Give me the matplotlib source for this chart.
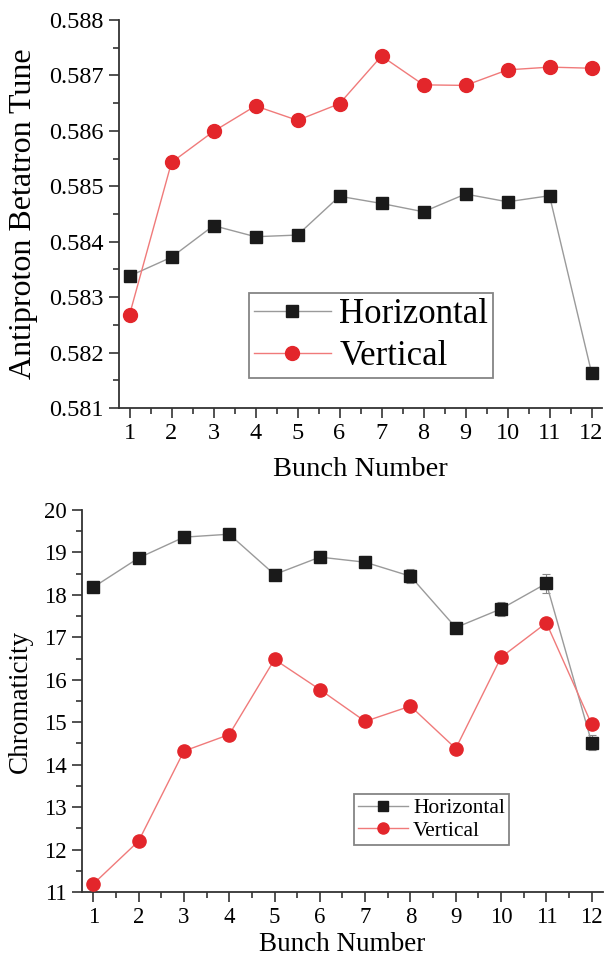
import matplotlib
matplotlib.use("Agg")
import matplotlib.pyplot as plt
from matplotlib.ticker import MultipleLocator, FormatStrFormatter

plt.rcParams['font.family'] = ['Liberation Serif', 'DejaVu Serif']
plt.rcParams['mathtext.fontset'] = 'stix'

bunch = list(range(1, 13))

tune_h = [0.58338, 0.58372, 0.58429, 0.58409, 0.58412, 0.58482,
          0.58469, 0.58454, 0.58486, 0.58472, 0.58483, 0.58164]
tune_v = [0.58268, 0.58543, 0.58599, 0.58645, 0.58619, 0.58649,
          0.58735, 0.58683, 0.58682, 0.58710, 0.58715, 0.58713]

chrom_h = [18.18, 18.87, 19.36, 19.43, 18.48, 18.89,
           18.77, 18.44, 17.23, 17.67, 18.27, 14.52]
chrom_h_err = [0.10, 0.08, 0.08, 0.08, 0.12, 0.14,
               0.14, 0.16, 0.12, 0.16, 0.22, 0.18]
chrom_v = [11.19, 12.20, 14.32, 14.71, 16.48, 15.77,
           15.02, 15.38, 14.38, 16.53, 17.34, 14.95]

labels = ['Horizontal', 'Vertical']

RED = '#e3262b'
RED_LINE = '#f07a7a'
BLK = '#1a1a1a'
GRAY_LINE = '#9a9a9a'
SPINE = '#333333'

W, H = 605, 963
fig = plt.figure(figsize=(W / 100, H / 100), dpi=100)

def px_axes(left, top, right, bottom):
    return fig.add_axes([left / W, 1 - bottom / H, (right - left) / W, (bottom - top) / H])

def style(ax, tick_fs):
    for s in ['top', 'right']:
        ax.spines[s].set_visible(False)
    for s in ['left', 'bottom']:
        ax.spines[s].set_color(SPINE)
        ax.spines[s].set_linewidth(1.3)
    ax.tick_params(which='major', direction='out', length=7, width=1.2,
                   color=SPINE, labelsize=tick_fs, pad=4)
    ax.tick_params(which='minor', direction='out', length=4, width=1.2, color=SPINE)
    ax.xaxis.set_major_locator(MultipleLocator(1))
    ax.xaxis.set_minor_locator(MultipleLocator(0.5))

# ---------- Top panel ----------
ax1 = px_axes(119, 20, 602, 408)
ax1.plot(bunch, tune_h, '-', color=GRAY_LINE, lw=1.0, zorder=2)
ax1.plot(bunch, tune_v, '-', color=RED_LINE, lw=1.0, zorder=2)
ax1.plot(bunch, tune_h, 's', color=BLK, ms=8, mec=BLK, zorder=3)
ax1.plot(bunch, tune_v, 'o', color=RED, ms=10, mec=RED, zorder=3)
hh = ax1.plot([], [], '-s', color=GRAY_LINE, mfc=BLK, mec=BLK, ms=8, lw=1.0)[0]
hv = ax1.plot([], [], '-o', color=RED_LINE, mfc=RED, mec=RED, ms=10, lw=1.0)[0]
ax1.set_xlim(0.75, 12.25)
ax1.set_ylim(0.581, 0.588)
ax1.yaxis.set_major_locator(MultipleLocator(0.001))
ax1.yaxis.set_minor_locator(MultipleLocator(0.0005))
ax1.yaxis.set_major_formatter(FormatStrFormatter('%.3f'))
style(ax1, 17.5)
ax1.set_xlabel('Bunch Number', fontsize=20.5, labelpad=9)
ax1.set_ylabel('Antiproton Betatron Tune', fontsize=23, labelpad=8)
leg1 = ax1.legend([hh, hv], labels, loc='upper left',
                  bbox_to_anchor=((249 - 119) / 483, 1 - (293 - 20) / 388),
                  fontsize=25, frameon=True, fancybox=False, borderpad=0.15,
                  handlelength=2.2, handletextpad=0.25, labelspacing=0.25,
                  borderaxespad=0)
leg1.get_frame().set_edgecolor('#666666')
leg1.get_frame().set_linewidth(1.3)

# ---------- Bottom panel ----------
ax2 = px_axes(82, 510, 603, 892)
ax2.errorbar(bunch, chrom_h, yerr=chrom_h_err, fmt='none', ecolor='#888888',
             elinewidth=0.8, capsize=3, capthick=0.8, zorder=1)
ax2.plot(bunch, chrom_h, '-', color=GRAY_LINE, lw=1.0, zorder=2)
ax2.plot(bunch, chrom_v, '-', color=RED_LINE, lw=1.0, zorder=2)
ax2.plot(bunch, chrom_h, 's', color=BLK, ms=8.5, mec=BLK, zorder=3)
ax2.plot(bunch, chrom_v, 'o', color=RED, ms=9.5, mec=RED, zorder=3)
hh2 = ax2.plot([], [], '-s', color=GRAY_LINE, mfc=BLK, mec=BLK, ms=6.5, lw=1.0)[0]
hv2 = ax2.plot([], [], '-o', color=RED_LINE, mfc=RED, mec=RED, ms=8, lw=1.0)[0]
ax2.set_xlim(0.75, 12.25)
ax2.set_ylim(11, 20)
ax2.yaxis.set_major_locator(MultipleLocator(1))
ax2.yaxis.set_minor_locator(MultipleLocator(0.5))
style(ax2, 16.5)
ax2.set_xlabel('Bunch Number', fontsize=19.5, labelpad=3)
ax2.set_ylabel('Chromaticity', fontsize=19.5, labelpad=8)
leg2 = ax2.legend([hh2, hv2], labels, loc='upper left',
                  bbox_to_anchor=((354 - 82) / 521, 1 - (794 - 510) / 382),
                  fontsize=15.5, frameon=True, fancybox=False, borderpad=0.2,
                  handlelength=2.3, handletextpad=0.25, labelspacing=0.1,
                  borderaxespad=0)
leg2.get_frame().set_edgecolor('#666666')
leg2.get_frame().set_linewidth(1.3)

fig.savefig('out.png', dpi=100)
